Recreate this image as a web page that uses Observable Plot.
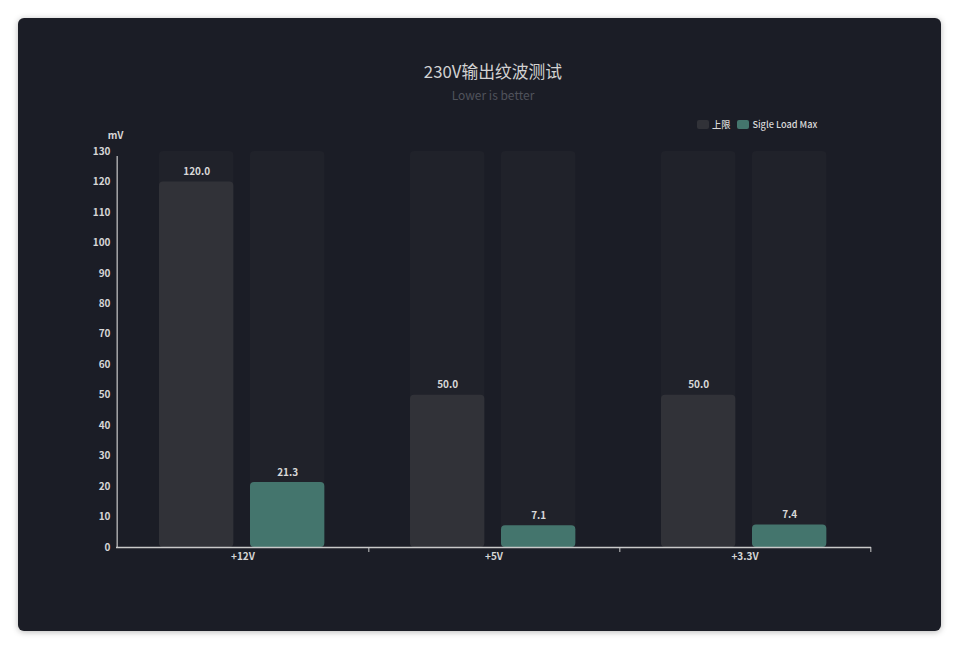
<!DOCTYPE html>
<html><head><meta charset="utf-8">
<script src="https://cdn.jsdelivr.net/npm/d3@7"></script>
<script src="https://cdn.jsdelivr.net/npm/@observablehq/plot@0.6"></script>
<style>
html,body{margin:0;padding:0;background:#fff;width:960px;height:650px;overflow:hidden;font-family:"Noto Sans CJK SC","Noto Sans",sans-serif;}
#card{position:absolute;left:18px;top:18px;width:923px;height:613px;background:#1b1d26;border-radius:6px;box-shadow:0 1px 6px rgba(0,0,0,0.28);overflow:hidden;}
#title{position:absolute;left:0;top:42px;width:950px;text-align:center;font-size:16.8px;line-height:22px;color:#d2d2d2;}
#subtitle{position:absolute;left:0;top:69px;width:950px;text-align:center;font-size:12px;line-height:16px;color:#50535c;}
#legend{position:absolute;left:679px;top:100px;height:12px;display:flex;align-items:center;font-size:9.2px;font-weight:500;color:#d8d8d8;}
#legend .sw{width:12px;height:9px;border-radius:2px;margin-right:3px;}
#legend .it{display:flex;align-items:center;margin-right:7px;}
#chart{position:absolute;left:0;top:0;}
</style></head>
<body>
<div id="card">
  <div id="title"></div>
  <div id="subtitle"></div>
  <div id="legend"></div>
  <div id="chart"></div>
</div>
<script>
const titleText = "230V输出纹波测试";
const subtitleText = "Lower is better";
const categories = ["+12V", "+5V", "+3.3V"];
const seriesNames = ["上限", "Sigle Load Max"];
const limitValues = [120, 50, 50];
const loadMaxValues = [21.3, 7.1, 7.4];
const yTicks = [0, 10, 20, 30, 40, 50, 60, 70, 80, 90, 100, 110, 120, 130];
const yMax = 130;
const yUnit = "mV";
const seriesColors = ["#313238", "#44756d"];

document.getElementById("title").textContent = titleText;
document.getElementById("subtitle").textContent = subtitleText;
const legend = document.getElementById("legend");
seriesNames.forEach((s, i) => {
  const it = document.createElement("div"); it.className = "it";
  const sw = document.createElement("div"); sw.className = "sw"; sw.style.background = seriesColors[i];
  const t = document.createElement("span"); t.textContent = s;
  it.appendChild(sw); it.appendChild(t); legend.appendChild(it);
});

const W = 923, H = 613, mL = 98, mR = 70, mT = 133, mB = 84;
const bw = (W - mL - mR) / categories.length;
const barW = 75, offs = [42, 133];
const rows = categories.map((c, i) => ({cat: c, limit: limitValues[i], load: loadMaxValues[i]}));
const inset = k => ({insetLeft: offs[k], insetRight: bw - offs[k] - barW});
const dxOf = k => offs[k] + barW / 2 - bw / 2;
const font = '"Noto Sans CJK SC","Noto Sans",sans-serif';

const chart = Plot.plot({
  width: W, height: H,
  marginLeft: mL, marginRight: mR, marginTop: mT, marginBottom: mB,
  style: {background: "transparent", color: "#d6d6d6", fontSize: "10px", fontFamily: font, overflow: "visible"},
  x: {domain: categories, padding: 0, axis: null},
  y: {domain: [0, yMax], axis: null},
  marks: [
    Plot.barY(rows, {x: "cat", y1: 0, y2: () => yMax, fill: "#20222a", rx: 4, ...inset(0)}),
    Plot.barY(rows, {x: "cat", y1: 0, y2: () => yMax, fill: "#20222a", rx: 4, ...inset(1)}),
    Plot.barY(rows, {x: "cat", y: "limit", fill: seriesColors[0], rx: 4, ...inset(0)}),
    Plot.barY(rows, {x: "cat", y: "load", fill: seriesColors[1], rx: 4, ...inset(1)}),
    Plot.text(rows, {x: "cat", y: "limit", text: d => d.limit.toFixed(1), dx: dxOf(0), dy: -10, fill: "#d8d8d8", fontWeight: 600, fontSize: 10}),
    Plot.text(rows, {x: "cat", y: "load", text: d => d.load.toFixed(1), dx: dxOf(1), dy: -10, fill: "#d8d8d8", fontWeight: 600, fontSize: 10}),
    Plot.axisY({ticks: yTicks, tickSize: 0, tickPadding: 6, label: null, fontWeight: 600, fill: "#d6d6d6"}),
    Plot.ruleX([categories[0]], {x: d => d, y1: 0, y2: yMax, dx: -bw / 2, insetBottom: -5, stroke: "#c9c9c9", strokeWidth: 1.2}),
    Plot.ruleY([0], {stroke: "#c9c9c9", strokeWidth: 1.5}),
    Plot.axisX({tickSize: 5, tickFormat: () => "", dx: bw / 2, stroke: "#c9c9c9", label: null}),
    Plot.axisX({tickSize: 0, tickPadding: 5, label: null, fontWeight: 600, fill: "#d6d6d6"}),
    Plot.text([yUnit], {frameAnchor: "top-left", text: d => d, textAnchor: "middle", dx: -1, dy: -20, fill: "#d6d6d6", fontWeight: 600, fontSize: 10})
  ]
});
document.getElementById("chart").appendChild(chart);
</script>
</body></html>
